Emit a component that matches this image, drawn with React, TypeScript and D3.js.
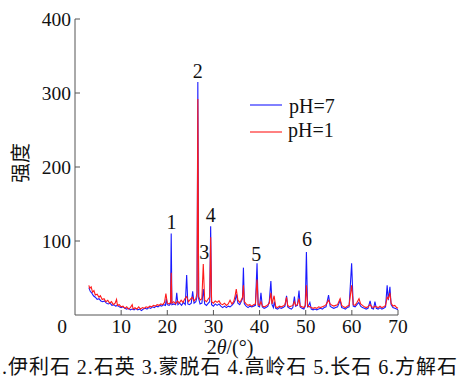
import React from 'react';
import * as d3 from 'd3';

// XRD patterns, [2θ, intensity]
const ph7: [number, number][] = [
  [3.0, 37], [3.3, 32], [3.6, 30], [4.0, 26], [4.4, 24], [4.8, 21], [5.2, 22], [5.6, 19], [6.0, 18], [6.4, 19],
  [6.8, 16], [7.2, 15], [7.6, 16], [8.0, 13], [8.4, 14], [8.8, 12], [9.2, 13], [9.6, 11], [10.0, 10], [10.4, 11],
  [10.8, 9], [11.2, 8], [11.6, 9], [12.0, 7], [12.4, 8], [12.8, 7], [13.2, 9], [13.6, 7], [14.0, 8], [14.4, 6],
  [14.8, 8], [15.2, 9], [15.6, 8], [16.0, 10], [16.4, 9], [16.8, 11], [17.2, 10], [17.6, 12], [18.0, 11], [18.4, 13],
  [18.8, 12], [19.2, 14], [19.6, 13], [19.8, 22], [20.0, 14], [20.4, 13], [20.7, 15], [20.85, 110], [21.0, 14], [21.4, 15],
  [21.8, 14], [22.05, 30], [22.3, 14], [22.7, 16], [23.1, 13], [23.5, 17], [23.9, 14], [24.2, 54], [24.45, 15], [24.8, 14],
  [25.2, 16], [25.5, 32], [25.8, 16], [26.2, 18], [26.45, 25], [26.62, 315], [26.8, 22], [27.1, 15], [27.5, 16], [27.8, 35],
  [28.1, 15], [28.5, 13], [28.9, 16], [29.2, 18], [29.4, 120], [29.6, 14], [30.0, 12], [30.4, 15], [30.8, 13], [31.2, 15],
  [31.6, 12], [32.0, 10], [32.4, 12], [32.8, 10], [33.2, 12], [33.6, 11], [34.0, 13], [34.4, 16], [34.7, 20], [35.0, 28],
  [35.3, 16], [35.7, 14], [36.0, 18], [36.3, 22], [36.5, 64], [36.7, 15], [37.1, 12], [37.5, 10], [37.9, 12], [38.3, 11],
  [38.7, 12], [39.1, 13], [39.45, 70], [39.7, 12], [40.0, 11], [40.3, 30], [40.6, 11], [41.0, 9], [41.4, 10], [41.8, 12],
  [42.1, 18], [42.45, 46], [42.7, 14], [43.0, 10], [43.2, 18], [43.5, 9], [43.9, 8], [44.3, 10], [44.7, 9], [45.1, 10],
  [45.5, 12], [45.85, 26], [46.1, 11], [46.5, 9], [46.9, 8], [47.2, 10], [47.55, 25], [47.8, 12], [48.2, 13], [48.55, 33],
  [48.8, 11], [49.2, 9], [49.6, 8], [49.9, 12], [50.15, 85], [50.4, 10], [50.9, 17], [51.2, 8], [51.6, 7], [52.0, 8],
  [52.4, 7], [52.8, 8], [53.2, 9], [53.6, 8], [54.0, 10], [54.4, 11], [54.95, 27], [55.3, 12], [55.7, 10], [56.1, 9],
  [56.5, 10], [56.9, 11], [57.45, 20], [57.8, 10], [58.2, 9], [58.6, 8], [59.0, 10], [59.4, 11], [59.95, 70], [60.3, 12],
  [60.7, 11], [61.1, 14], [61.5, 17], [61.9, 12], [62.3, 10], [62.7, 9], [63.1, 8], [63.5, 9], [63.95, 19], [64.3, 9],
  [64.7, 8], [65.0, 18], [65.3, 9], [65.7, 8], [66.1, 10], [66.5, 8], [66.9, 9], [67.3, 11], [67.65, 40], [67.9, 20],
  [68.25, 38], [68.5, 14], [68.9, 10], [69.3, 9], [69.7, 8], [70.0, 7],
];

const ph1: [number, number][] = [
  [3.0, 40], [3.2, 36], [3.5, 38], [3.8, 31], [4.1, 33], [4.4, 27], [4.8, 28], [5.2, 24], [5.5, 26], [5.9, 21],
  [6.3, 22], [6.7, 18], [7.1, 20], [7.5, 16], [7.9, 18], [8.3, 14], [8.7, 16], [9.0, 21], [9.2, 13], [9.6, 14],
  [10.0, 11], [10.4, 12], [10.8, 9], [11.2, 11], [11.6, 8], [12.0, 10], [12.4, 14], [12.6, 8], [13.0, 10], [13.4, 8],
  [13.8, 11], [14.2, 8], [14.6, 10], [15.0, 9], [15.4, 11], [15.8, 10], [16.2, 12], [16.6, 11], [17.0, 13], [17.4, 12],
  [17.8, 14], [18.2, 13], [18.6, 15], [19.0, 14], [19.4, 17], [19.7, 29], [20.0, 16], [20.4, 15], [20.7, 17], [20.85, 57],
  [21.0, 16], [21.4, 18], [21.8, 15], [22.2, 19], [22.6, 16], [23.0, 20], [23.4, 17], [23.8, 22], [24.2, 25], [24.6, 18],
  [25.0, 21], [25.4, 24], [25.8, 19], [26.2, 22], [26.45, 30], [26.62, 292], [26.8, 25], [27.1, 20], [27.5, 22], [27.8, 69],
  [28.1, 20], [28.5, 18], [28.9, 22], [29.2, 24], [29.4, 105], [29.6, 18], [30.0, 16], [30.4, 19], [30.8, 17], [31.2, 19],
  [31.6, 15], [32.0, 14], [32.4, 16], [32.8, 13], [33.2, 15], [33.6, 20], [34.0, 15], [34.4, 18], [34.7, 26], [34.95, 35],
  [35.3, 20], [35.7, 17], [36.0, 20], [36.3, 24], [36.5, 40], [36.7, 18], [37.1, 15], [37.5, 13], [37.9, 14], [38.3, 12],
  [38.7, 14], [39.1, 15], [39.45, 48], [39.7, 14], [40.0, 13], [40.3, 18], [40.6, 12], [41.0, 11], [41.4, 12], [41.8, 14],
  [42.1, 16], [42.45, 30], [42.7, 15], [43.15, 26], [43.5, 11], [43.9, 10], [44.3, 12], [44.7, 11], [45.1, 12], [45.5, 14],
  [45.85, 24], [46.1, 13], [46.5, 11], [46.9, 12], [47.2, 13], [47.55, 18], [47.8, 13], [48.2, 14], [48.55, 22], [48.8, 12],
  [49.2, 11], [49.6, 10], [49.9, 13], [50.15, 40], [50.4, 12], [50.9, 11], [51.2, 10], [51.6, 9], [52.0, 10], [52.4, 9],
  [52.8, 11], [53.2, 10], [53.6, 11], [54.0, 12], [54.4, 14], [54.95, 20], [55.3, 15], [55.7, 13], [56.1, 12], [56.5, 13],
  [56.9, 14], [57.45, 22], [57.8, 13], [58.2, 11], [58.6, 10], [59.0, 12], [59.4, 13], [59.95, 40], [60.3, 14], [60.7, 13],
  [61.1, 17], [61.55, 22], [61.9, 15], [62.3, 13], [62.7, 11], [63.1, 10], [63.5, 11], [63.95, 14], [64.3, 11], [64.7, 10],
  [65.0, 12], [65.3, 11], [65.7, 10], [66.1, 12], [66.5, 10], [66.9, 11], [67.3, 13], [67.65, 24], [67.9, 22], [68.25, 30],
  [68.5, 16], [68.9, 12], [69.3, 13], [69.7, 10], [70.0, 9],
];

const xTicks = [10, 20, 30, 40, 50, 60, 70];
const yTicks = [100, 200, 300, 400];

// peak markers: [label, 2θ, intensity where the number sits]
const peakLabels: [string, number, number][] = [
  ['1', 20.9, 113],
  ['2', 26.6, 317],
  ['3', 28.0, 73],
  ['4', 29.4, 123],
  ['5', 39.3, 70],
  ['6', 50.3, 90],
];

const seriesNames = ['pH=7', 'pH=1'];
const seriesColors = ['#1a1aff', '#ff1a1a'];
const caption = '1.伊利石 2.石英 3.蒙脱石 4.高岭石 5.长石 6.方解石';

const serif = 'Liberation Serif';
const cjk = 'Liberation Serif, Noto Sans CJK SC';

const App = () => {
  const x = d3.scaleLinear().domain([0, 70]).range([75, 398]);
  const y = d3.scaleLinear().domain([0, 400]).range([315, 19]);
  const line = d3.line<[number, number]>()
    .x(d => x(d[0]))
    .y(d => y(d[1]));
  const axisColor = '#555';
  const ink = '#111';

  return (
    <svg width={459} height={388} style={{ position: 'absolute', left: 0, top: 0 }}>
      <rect width={459} height={388} fill='white' />

      {/* series */}
      <path d={line(ph7) || ''} fill='none' stroke={seriesColors[0]} strokeWidth={1.1} />
      <path d={line(ph1) || ''} fill='none' stroke={seriesColors[1]} strokeWidth={1.1} />

      {/* axes */}
      <line x1={x(0)} x2={x(0)} y1={y(0)} y2={y(400)} stroke={axisColor} strokeWidth={1} />
      <line x1={x(0)} x2={x(70)} y1={y(0)} y2={y(0)} stroke={axisColor} strokeWidth={1} />
      {yTicks.map(t => (
        <g key={'y' + t}>
          <line x1={x(0)} x2={x(0) + 5} y1={y(t)} y2={y(t)} stroke={axisColor} />
          <text x={71} y={y(t) + 6.5} textAnchor='end' fontFamily={serif} fontSize={19.5} fill={ink}>{t}</text>
        </g>
      ))}
      {xTicks.map(t => (
        <g key={'x' + t}>
          <line x1={x(t)} x2={x(t)} y1={y(0)} y2={y(0) - 5} stroke={axisColor} />
          <text x={x(t)} y={333} textAnchor='middle' fontFamily={serif} fontSize={19.5} fill={ink}>{t}</text>
        </g>
      ))}
      <text x={62} y={333} textAnchor='middle' fontFamily={serif} fontSize={19.5} fill={ink}>0</text>

      {/* axis titles */}
      <text transform='translate(28 163) rotate(-90)' textAnchor='middle' fontFamily={cjk} fontSize={20} fill={ink}>强度</text>
      <text x={230} y={354} textAnchor='middle' fontFamily={serif} fontSize={20} fill={ink}>
        2<tspan fontStyle='italic'>θ</tspan>/(°)
      </text>

      {/* peak labels */}
      {peakLabels.map(([lab, tx, ty]) => (
        <text key={lab} x={x(tx)} y={y(ty) - 2} textAnchor='middle' fontFamily={serif} fontSize={20} fill={ink}>{lab}</text>
      ))}

      {/* legend */}
      {seriesNames.map((name, i) => (
        <g key={name}>
          <line x1={250} x2={282} y1={105 + i * 27} y2={105 + i * 27} stroke={seriesColors[i]} strokeWidth={1.1} />
          <text x={289 - i} y={113 + i * 24} fontFamily={serif} fontSize={20} fill={ink}>{name}</text>
        </g>
      ))}

      {/* caption */}
      <text x={-9} y={374} fontFamily={cjk} fontSize={20} fill={ink} textLength={466} lengthAdjust='spacing'>{caption}</text>
    </svg>
  );
};

export default App;
